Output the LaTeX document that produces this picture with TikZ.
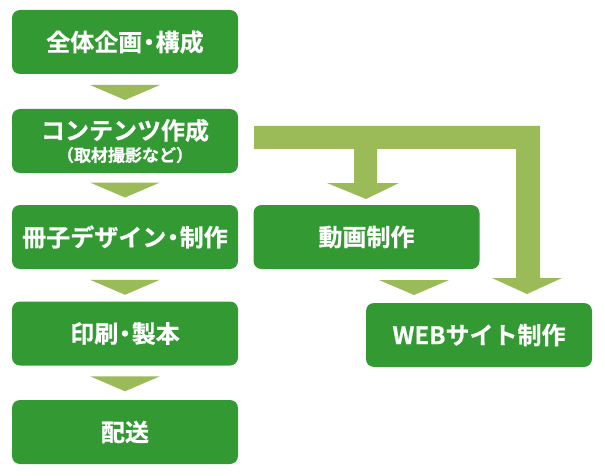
\documentclass[tikz,border=0pt]{standalone}
\usepackage{fontspec}
\newfontfamily\jp{Noto Sans CJK JP}[UprightFont={* Bold}, FakeBold=0.6]
\usetikzlibrary{calc}
\definecolor{boxg}{RGB}{51,153,51}
\definecolor{arrg}{RGB}{155,187,89}
\newcommand\nd{\hspace{-0.22em}・\hspace{-0.22em}}
\tikzset{
  stepbox/.style={fill=boxg, rounded corners=8pt, minimum width=226pt, minimum height=64pt,
    inner sep=0pt, text=white, font=\jp\fontsize{24}{26}\selectfont, align=center},
  arrfill/.style={fill=arrg, draw=none}
}
\newcommand\dtri[1]{\fill[arrfill] ($(#1)+(-35,-7.5)$) -- ($(#1)+(35,-7.5)$) -- ($(#1)+(0,7.5)$) -- cycle;}
\begin{document}
\begin{tikzpicture}[x=1pt,y=-1pt]
\useasboundingbox (0,0) rectangle (605,476);
\node[stepbox] (b1) at (125,42) {全体企画\nd 構成};
\node[stepbox] (b2) at (125,141) {コンテンツ作成\\[-4pt]{\fontsize{17}{19}\selectfont （取材撮影など）}};
\node[stepbox] (b3) at (125,237) {冊子デザイン\nd 制作};
\node[stepbox] (b4) at (125,333.5) {印刷\nd 製本};
\node[stepbox] (b5) at (125,432) {配送};
\node[stepbox] (m) at (366.5,237) {動画制作};
\node[stepbox] (w) at (479,335) {WEBサイト制作};
\coordinate (t1) at ($(b1.south)!0.5!(b2.north)+(0,1)$);
\coordinate (t2) at ($(b2.south)!0.5!(b3.north)+(0,1)$);
\coordinate (t3) at ($(b3.south)!0.5!(b4.north)+(0,2)$);
\coordinate (t4) at ($(b4.south)!0.5!(b5.north)+(0,1)$);
\coordinate (t5) at (414,287.5);
\dtri{t1}\dtri{t2}\dtri{t3}\dtri{t4}\dtri{t5}
\fill[arrfill] (254,126) -- (540,126) -- (540,278) -- (562,278) -- (527,294) -- (492,278)
  -- (516,278) -- (516,149) -- (377,149) -- (377,183) -- (399,183) -- (366,199)
  -- (327,183) -- (354,183) -- (354,149) -- (254,149) -- cycle;
\end{tikzpicture}
\end{document}
